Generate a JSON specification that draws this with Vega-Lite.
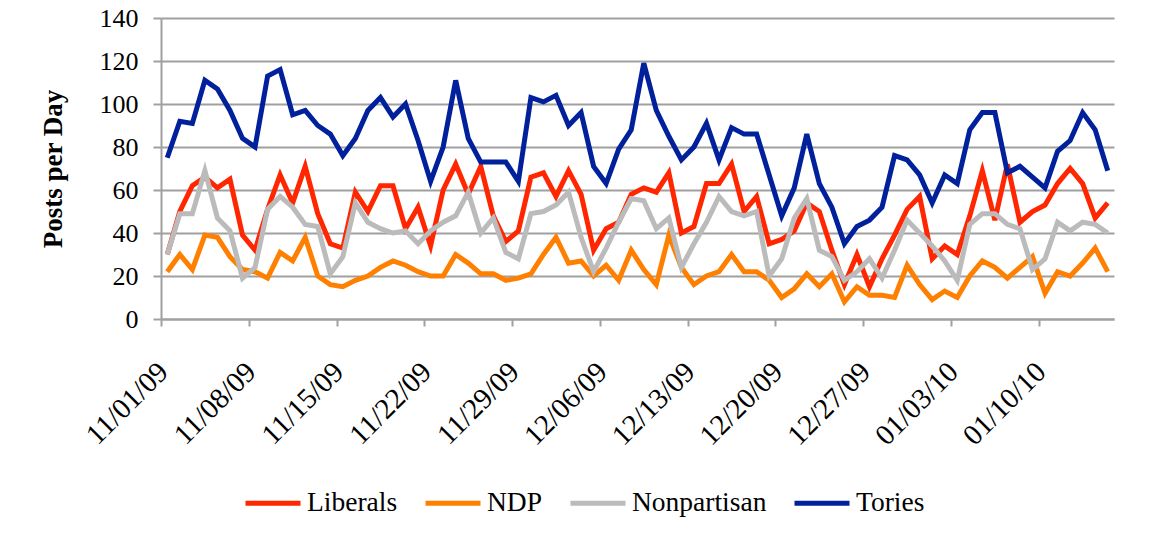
{
  "$schema": "https://vega.github.io/schema/vega-lite/v6.json",
  "width": 953,
  "height": 301,
  "autosize": {"type": "none"},
  "padding": {"left": 161, "top": 18, "right": 39, "bottom": 217},
  "background": "white",
  "config": {
    "view": {"stroke": null},
    "font": "Liberation Serif",
    "axis": {"labelFont": "Liberation Serif", "titleFont": "Liberation Serif", "labelColor": "#000000", "titleColor": "#000000"}
  },
  "data": {"values": [
    {"date":"2009-11-01","party":"Liberals","posts":30},{"date":"2009-11-01","party":"NDP","posts":22},{"date":"2009-11-01","party":"Nonpartisan","posts":30},{"date":"2009-11-01","party":"Tories","posts":75},
    {"date":"2009-11-02","party":"Liberals","posts":50},{"date":"2009-11-02","party":"NDP","posts":30},{"date":"2009-11-02","party":"Nonpartisan","posts":49},{"date":"2009-11-02","party":"Tories","posts":92},
    {"date":"2009-11-03","party":"Liberals","posts":62},{"date":"2009-11-03","party":"NDP","posts":23},{"date":"2009-11-03","party":"Nonpartisan","posts":49},{"date":"2009-11-03","party":"Tories","posts":91},
    {"date":"2009-11-04","party":"Liberals","posts":66},{"date":"2009-11-04","party":"NDP","posts":39},{"date":"2009-11-04","party":"Nonpartisan","posts":69},{"date":"2009-11-04","party":"Tories","posts":111},
    {"date":"2009-11-05","party":"Liberals","posts":61},{"date":"2009-11-05","party":"NDP","posts":38},{"date":"2009-11-05","party":"Nonpartisan","posts":47},{"date":"2009-11-05","party":"Tories","posts":107},
    {"date":"2009-11-06","party":"Liberals","posts":65},{"date":"2009-11-06","party":"NDP","posts":29},{"date":"2009-11-06","party":"Nonpartisan","posts":41},{"date":"2009-11-06","party":"Tories","posts":97},
    {"date":"2009-11-07","party":"Liberals","posts":39},{"date":"2009-11-07","party":"NDP","posts":23},{"date":"2009-11-07","party":"Nonpartisan","posts":19},{"date":"2009-11-07","party":"Tories","posts":84},
    {"date":"2009-11-08","party":"Liberals","posts":32},{"date":"2009-11-08","party":"NDP","posts":22},{"date":"2009-11-08","party":"Nonpartisan","posts":24},{"date":"2009-11-08","party":"Tories","posts":80},
    {"date":"2009-11-09","party":"Liberals","posts":51},{"date":"2009-11-09","party":"NDP","posts":19},{"date":"2009-11-09","party":"Nonpartisan","posts":51},{"date":"2009-11-09","party":"Tories","posts":113},
    {"date":"2009-11-10","party":"Liberals","posts":67},{"date":"2009-11-10","party":"NDP","posts":31},{"date":"2009-11-10","party":"Nonpartisan","posts":57},{"date":"2009-11-10","party":"Tories","posts":116},
    {"date":"2009-11-11","party":"Liberals","posts":54},{"date":"2009-11-11","party":"NDP","posts":27},{"date":"2009-11-11","party":"Nonpartisan","posts":52},{"date":"2009-11-11","party":"Tories","posts":95},
    {"date":"2009-11-12","party":"Liberals","posts":71},{"date":"2009-11-12","party":"NDP","posts":38},{"date":"2009-11-12","party":"Nonpartisan","posts":44},{"date":"2009-11-12","party":"Tories","posts":97},
    {"date":"2009-11-13","party":"Liberals","posts":49},{"date":"2009-11-13","party":"NDP","posts":20},{"date":"2009-11-13","party":"Nonpartisan","posts":43},{"date":"2009-11-13","party":"Tories","posts":90},
    {"date":"2009-11-14","party":"Liberals","posts":35},{"date":"2009-11-14","party":"NDP","posts":16},{"date":"2009-11-14","party":"Nonpartisan","posts":21},{"date":"2009-11-14","party":"Tories","posts":86},
    {"date":"2009-11-15","party":"Liberals","posts":33},{"date":"2009-11-15","party":"NDP","posts":15},{"date":"2009-11-15","party":"Nonpartisan","posts":29},{"date":"2009-11-15","party":"Tories","posts":76},
    {"date":"2009-11-16","party":"Liberals","posts":59},{"date":"2009-11-16","party":"NDP","posts":18},{"date":"2009-11-16","party":"Nonpartisan","posts":54},{"date":"2009-11-16","party":"Tories","posts":84},
    {"date":"2009-11-17","party":"Liberals","posts":50},{"date":"2009-11-17","party":"NDP","posts":20},{"date":"2009-11-17","party":"Nonpartisan","posts":45},{"date":"2009-11-17","party":"Tories","posts":97},
    {"date":"2009-11-18","party":"Liberals","posts":62},{"date":"2009-11-18","party":"NDP","posts":24},{"date":"2009-11-18","party":"Nonpartisan","posts":42},{"date":"2009-11-18","party":"Tories","posts":103},
    {"date":"2009-11-19","party":"Liberals","posts":62},{"date":"2009-11-19","party":"NDP","posts":27},{"date":"2009-11-19","party":"Nonpartisan","posts":40},{"date":"2009-11-19","party":"Tories","posts":94},
    {"date":"2009-11-20","party":"Liberals","posts":42},{"date":"2009-11-20","party":"NDP","posts":25},{"date":"2009-11-20","party":"Nonpartisan","posts":41},{"date":"2009-11-20","party":"Tories","posts":100},
    {"date":"2009-11-21","party":"Liberals","posts":52},{"date":"2009-11-21","party":"NDP","posts":22},{"date":"2009-11-21","party":"Nonpartisan","posts":35},{"date":"2009-11-21","party":"Tories","posts":83},
    {"date":"2009-11-22","party":"Liberals","posts":34},{"date":"2009-11-22","party":"NDP","posts":20},{"date":"2009-11-22","party":"Nonpartisan","posts":41},{"date":"2009-11-22","party":"Tories","posts":64},
    {"date":"2009-11-23","party":"Liberals","posts":60},{"date":"2009-11-23","party":"NDP","posts":20},{"date":"2009-11-23","party":"Nonpartisan","posts":45},{"date":"2009-11-23","party":"Tories","posts":80},
    {"date":"2009-11-24","party":"Liberals","posts":72},{"date":"2009-11-24","party":"NDP","posts":30},{"date":"2009-11-24","party":"Nonpartisan","posts":48},{"date":"2009-11-24","party":"Tories","posts":111},
    {"date":"2009-11-25","party":"Liberals","posts":58},{"date":"2009-11-25","party":"NDP","posts":26},{"date":"2009-11-25","party":"Nonpartisan","posts":59},{"date":"2009-11-25","party":"Tories","posts":84},
    {"date":"2009-11-26","party":"Liberals","posts":71},{"date":"2009-11-26","party":"NDP","posts":21},{"date":"2009-11-26","party":"Nonpartisan","posts":40},{"date":"2009-11-26","party":"Tories","posts":73},
    {"date":"2009-11-27","party":"Liberals","posts":48},{"date":"2009-11-27","party":"NDP","posts":21},{"date":"2009-11-27","party":"Nonpartisan","posts":47},{"date":"2009-11-27","party":"Tories","posts":73},
    {"date":"2009-11-28","party":"Liberals","posts":36},{"date":"2009-11-28","party":"NDP","posts":18},{"date":"2009-11-28","party":"Nonpartisan","posts":31},{"date":"2009-11-28","party":"Tories","posts":73},
    {"date":"2009-11-29","party":"Liberals","posts":41},{"date":"2009-11-29","party":"NDP","posts":19},{"date":"2009-11-29","party":"Nonpartisan","posts":28},{"date":"2009-11-29","party":"Tories","posts":64},
    {"date":"2009-11-30","party":"Liberals","posts":66},{"date":"2009-11-30","party":"NDP","posts":21},{"date":"2009-11-30","party":"Nonpartisan","posts":49},{"date":"2009-11-30","party":"Tories","posts":103},
    {"date":"2009-12-01","party":"Liberals","posts":68},{"date":"2009-12-01","party":"NDP","posts":30},{"date":"2009-12-01","party":"Nonpartisan","posts":50},{"date":"2009-12-01","party":"Tories","posts":101},
    {"date":"2009-12-02","party":"Liberals","posts":57},{"date":"2009-12-02","party":"NDP","posts":38},{"date":"2009-12-02","party":"Nonpartisan","posts":53},{"date":"2009-12-02","party":"Tories","posts":104},
    {"date":"2009-12-03","party":"Liberals","posts":69},{"date":"2009-12-03","party":"NDP","posts":26},{"date":"2009-12-03","party":"Nonpartisan","posts":59},{"date":"2009-12-03","party":"Tories","posts":90},
    {"date":"2009-12-04","party":"Liberals","posts":58},{"date":"2009-12-04","party":"NDP","posts":27},{"date":"2009-12-04","party":"Nonpartisan","posts":38},{"date":"2009-12-04","party":"Tories","posts":96},
    {"date":"2009-12-05","party":"Liberals","posts":32},{"date":"2009-12-05","party":"NDP","posts":20},{"date":"2009-12-05","party":"Nonpartisan","posts":22},{"date":"2009-12-05","party":"Tories","posts":71},
    {"date":"2009-12-06","party":"Liberals","posts":42},{"date":"2009-12-06","party":"NDP","posts":25},{"date":"2009-12-06","party":"Nonpartisan","posts":33},{"date":"2009-12-06","party":"Tories","posts":63},
    {"date":"2009-12-07","party":"Liberals","posts":45},{"date":"2009-12-07","party":"NDP","posts":18},{"date":"2009-12-07","party":"Nonpartisan","posts":45},{"date":"2009-12-07","party":"Tories","posts":79},
    {"date":"2009-12-08","party":"Liberals","posts":58},{"date":"2009-12-08","party":"NDP","posts":32},{"date":"2009-12-08","party":"Nonpartisan","posts":56},{"date":"2009-12-08","party":"Tories","posts":88},
    {"date":"2009-12-09","party":"Liberals","posts":61},{"date":"2009-12-09","party":"NDP","posts":23},{"date":"2009-12-09","party":"Nonpartisan","posts":55},{"date":"2009-12-09","party":"Tories","posts":119},
    {"date":"2009-12-10","party":"Liberals","posts":59},{"date":"2009-12-10","party":"NDP","posts":16},{"date":"2009-12-10","party":"Nonpartisan","posts":42},{"date":"2009-12-10","party":"Tories","posts":97},
    {"date":"2009-12-11","party":"Liberals","posts":68},{"date":"2009-12-11","party":"NDP","posts":39},{"date":"2009-12-11","party":"Nonpartisan","posts":47},{"date":"2009-12-11","party":"Tories","posts":85},
    {"date":"2009-12-12","party":"Liberals","posts":40},{"date":"2009-12-12","party":"NDP","posts":24},{"date":"2009-12-12","party":"Nonpartisan","posts":24},{"date":"2009-12-12","party":"Tories","posts":74},
    {"date":"2009-12-13","party":"Liberals","posts":43},{"date":"2009-12-13","party":"NDP","posts":16},{"date":"2009-12-13","party":"Nonpartisan","posts":35},{"date":"2009-12-13","party":"Tories","posts":80},
    {"date":"2009-12-14","party":"Liberals","posts":63},{"date":"2009-12-14","party":"NDP","posts":20},{"date":"2009-12-14","party":"Nonpartisan","posts":45},{"date":"2009-12-14","party":"Tories","posts":91},
    {"date":"2009-12-15","party":"Liberals","posts":63},{"date":"2009-12-15","party":"NDP","posts":22},{"date":"2009-12-15","party":"Nonpartisan","posts":57},{"date":"2009-12-15","party":"Tories","posts":74},
    {"date":"2009-12-16","party":"Liberals","posts":72},{"date":"2009-12-16","party":"NDP","posts":30},{"date":"2009-12-16","party":"Nonpartisan","posts":50},{"date":"2009-12-16","party":"Tories","posts":89},
    {"date":"2009-12-17","party":"Liberals","posts":50},{"date":"2009-12-17","party":"NDP","posts":22},{"date":"2009-12-17","party":"Nonpartisan","posts":48},{"date":"2009-12-17","party":"Tories","posts":86},
    {"date":"2009-12-18","party":"Liberals","posts":57},{"date":"2009-12-18","party":"NDP","posts":22},{"date":"2009-12-18","party":"Nonpartisan","posts":50},{"date":"2009-12-18","party":"Tories","posts":86},
    {"date":"2009-12-19","party":"Liberals","posts":35},{"date":"2009-12-19","party":"NDP","posts":18},{"date":"2009-12-19","party":"Nonpartisan","posts":20},{"date":"2009-12-19","party":"Tories","posts":67},
    {"date":"2009-12-20","party":"Liberals","posts":37},{"date":"2009-12-20","party":"NDP","posts":10},{"date":"2009-12-20","party":"Nonpartisan","posts":28},{"date":"2009-12-20","party":"Tories","posts":48},
    {"date":"2009-12-21","party":"Liberals","posts":41},{"date":"2009-12-21","party":"NDP","posts":14},{"date":"2009-12-21","party":"Nonpartisan","posts":47},{"date":"2009-12-21","party":"Tories","posts":61},
    {"date":"2009-12-22","party":"Liberals","posts":54},{"date":"2009-12-22","party":"NDP","posts":21},{"date":"2009-12-22","party":"Nonpartisan","posts":56},{"date":"2009-12-22","party":"Tories","posts":86},
    {"date":"2009-12-23","party":"Liberals","posts":50},{"date":"2009-12-23","party":"NDP","posts":15},{"date":"2009-12-23","party":"Nonpartisan","posts":32},{"date":"2009-12-23","party":"Tories","posts":63},
    {"date":"2009-12-24","party":"Liberals","posts":32},{"date":"2009-12-24","party":"NDP","posts":21},{"date":"2009-12-24","party":"Nonpartisan","posts":29},{"date":"2009-12-24","party":"Tories","posts":52},
    {"date":"2009-12-25","party":"Liberals","posts":16},{"date":"2009-12-25","party":"NDP","posts":8},{"date":"2009-12-25","party":"Nonpartisan","posts":18},{"date":"2009-12-25","party":"Tories","posts":35},
    {"date":"2009-12-26","party":"Liberals","posts":30},{"date":"2009-12-26","party":"NDP","posts":15},{"date":"2009-12-26","party":"Nonpartisan","posts":22},{"date":"2009-12-26","party":"Tories","posts":43},
    {"date":"2009-12-27","party":"Liberals","posts":15},{"date":"2009-12-27","party":"NDP","posts":11},{"date":"2009-12-27","party":"Nonpartisan","posts":28},{"date":"2009-12-27","party":"Tories","posts":46},
    {"date":"2009-12-28","party":"Liberals","posts":28},{"date":"2009-12-28","party":"NDP","posts":11},{"date":"2009-12-28","party":"Nonpartisan","posts":19},{"date":"2009-12-28","party":"Tories","posts":52},
    {"date":"2009-12-29","party":"Liberals","posts":39},{"date":"2009-12-29","party":"NDP","posts":10},{"date":"2009-12-29","party":"Nonpartisan","posts":32},{"date":"2009-12-29","party":"Tories","posts":76},
    {"date":"2009-12-30","party":"Liberals","posts":51},{"date":"2009-12-30","party":"NDP","posts":25},{"date":"2009-12-30","party":"Nonpartisan","posts":46},{"date":"2009-12-30","party":"Tories","posts":74},
    {"date":"2009-12-31","party":"Liberals","posts":57},{"date":"2009-12-31","party":"NDP","posts":16},{"date":"2009-12-31","party":"Nonpartisan","posts":40},{"date":"2009-12-31","party":"Tories","posts":67},
    {"date":"2010-01-01","party":"Liberals","posts":28},{"date":"2010-01-01","party":"NDP","posts":9},{"date":"2010-01-01","party":"Nonpartisan","posts":34},{"date":"2010-01-01","party":"Tories","posts":54},
    {"date":"2010-01-02","party":"Liberals","posts":34},{"date":"2010-01-02","party":"NDP","posts":13},{"date":"2010-01-02","party":"Nonpartisan","posts":27},{"date":"2010-01-02","party":"Tories","posts":67},
    {"date":"2010-01-03","party":"Liberals","posts":30},{"date":"2010-01-03","party":"NDP","posts":10},{"date":"2010-01-03","party":"Nonpartisan","posts":18},{"date":"2010-01-03","party":"Tories","posts":63},
    {"date":"2010-01-04","party":"Liberals","posts":48},{"date":"2010-01-04","party":"NDP","posts":20},{"date":"2010-01-04","party":"Nonpartisan","posts":44},{"date":"2010-01-04","party":"Tories","posts":88},
    {"date":"2010-01-05","party":"Liberals","posts":69},{"date":"2010-01-05","party":"NDP","posts":27},{"date":"2010-01-05","party":"Nonpartisan","posts":49},{"date":"2010-01-05","party":"Tories","posts":96},
    {"date":"2010-01-06","party":"Liberals","posts":46},{"date":"2010-01-06","party":"NDP","posts":24},{"date":"2010-01-06","party":"Nonpartisan","posts":49},{"date":"2010-01-06","party":"Tories","posts":96},
    {"date":"2010-01-07","party":"Liberals","posts":72},{"date":"2010-01-07","party":"NDP","posts":19},{"date":"2010-01-07","party":"Nonpartisan","posts":44},{"date":"2010-01-07","party":"Tories","posts":68},
    {"date":"2010-01-08","party":"Liberals","posts":45},{"date":"2010-01-08","party":"NDP","posts":24},{"date":"2010-01-08","party":"Nonpartisan","posts":42},{"date":"2010-01-08","party":"Tories","posts":71},
    {"date":"2010-01-09","party":"Liberals","posts":50},{"date":"2010-01-09","party":"NDP","posts":29},{"date":"2010-01-09","party":"Nonpartisan","posts":23},{"date":"2010-01-09","party":"Tories","posts":66},
    {"date":"2010-01-10","party":"Liberals","posts":53},{"date":"2010-01-10","party":"NDP","posts":12},{"date":"2010-01-10","party":"Nonpartisan","posts":28},{"date":"2010-01-10","party":"Tories","posts":61},
    {"date":"2010-01-11","party":"Liberals","posts":63},{"date":"2010-01-11","party":"NDP","posts":22},{"date":"2010-01-11","party":"Nonpartisan","posts":45},{"date":"2010-01-11","party":"Tories","posts":78},
    {"date":"2010-01-12","party":"Liberals","posts":70},{"date":"2010-01-12","party":"NDP","posts":20},{"date":"2010-01-12","party":"Nonpartisan","posts":41},{"date":"2010-01-12","party":"Tories","posts":83},
    {"date":"2010-01-13","party":"Liberals","posts":63},{"date":"2010-01-13","party":"NDP","posts":26},{"date":"2010-01-13","party":"Nonpartisan","posts":45},{"date":"2010-01-13","party":"Tories","posts":96},
    {"date":"2010-01-14","party":"Liberals","posts":47},{"date":"2010-01-14","party":"NDP","posts":33},{"date":"2010-01-14","party":"Nonpartisan","posts":44},{"date":"2010-01-14","party":"Tories","posts":88},
    {"date":"2010-01-15","party":"Liberals","posts":54},{"date":"2010-01-15","party":"NDP","posts":22},{"date":"2010-01-15","party":"Nonpartisan","posts":40},{"date":"2010-01-15","party":"Tories","posts":69}
  ]},
  "mark": {"type": "line", "strokeWidth": 5, "strokeJoin": "miter"},
  "encoding": {
    "x": {
      "field": "date",
      "type": "temporal",
      "timeUnit": "utcyearmonthdate",
      "bandPosition": 0.5,
      "scale": {"type": "utc", "domain": [{"year": 2009, "month": 11, "date": 1, "utc": true}, {"year": 2010, "month": 1, "date": 16, "utc": true}], "nice": false},
      "axis": {
        "title": null,
        "values": [
          {"year": 2009, "month": 11, "date": 1, "utc": true},
          {"year": 2009, "month": 11, "date": 8, "utc": true},
          {"year": 2009, "month": 11, "date": 15, "utc": true},
          {"year": 2009, "month": 11, "date": 22, "utc": true},
          {"year": 2009, "month": 11, "date": 29, "utc": true},
          {"year": 2009, "month": 12, "date": 6, "utc": true},
          {"year": 2009, "month": 12, "date": 13, "utc": true},
          {"year": 2009, "month": 12, "date": 20, "utc": true},
          {"year": 2009, "month": 12, "date": 27, "utc": true},
          {"year": 2010, "month": 1, "date": 3, "utc": true},
          {"year": 2010, "month": 1, "date": 10, "utc": true}
        ],
        "labelExpr": "utcFormat(datum.value, '%m/%d/%y')",
        "grid": false,
        "labelAngle": -45,
        "labelAlign": "right",
        "labelBaseline": "top",
        "labelFontSize": 29,
        "labelPadding": 31,
        "labelOffset": -8,
        "labelOverlap": false,
        "labelFlush": false,
        "tickSize": 7,
        "tickColor": "#a0a0a0",
        "tickWidth": 2,
        "domainColor": "#a0a0a0",
        "domainWidth": 2
      }
    },
    "y": {
      "field": "posts",
      "type": "quantitative",
      "scale": {"domain": [0, 140], "nice": false},
      "axis": {
        "title": "Posts per Day",
        "titleFontSize": 27,
        "titleFontWeight": "bold",
        "titlePadding": 32,
        "values": [0, 20, 40, 60, 80, 100, 120, 140],
        "labelFontSize": 26,
        "labelPadding": 15,
        "tickSize": 8,
        "tickColor": "#a0a0a0",
        "tickWidth": 2,
        "domainColor": "#a0a0a0",
        "domainWidth": 2,
        "grid": true,
        "gridColor": "#a0a0a0",
        "gridWidth": 2
      }
    },
    "color": {
      "field": "party",
      "type": "nominal",
      "scale": {"domain": ["Liberals", "NDP", "Nonpartisan", "Tories"], "range": ["#FF2600", "#FF8000", "#BBBBBB", "#00209C"]},
      "legend": {
        "title": null,
        "orient": "none",
        "legendX": 82,
        "legendY": 455,
        "direction": "horizontal",
        "symbolType": "stroke",
        "symbolSize": 3025,
        "symbolStrokeWidth": 5,
        "labelFont": "Liberation Serif",
        "labelFontSize": 27.5,
        "labelColor": "#000000",
        "labelOffset": 4,
        "columnPadding": 17
      }
    }
  }
}
